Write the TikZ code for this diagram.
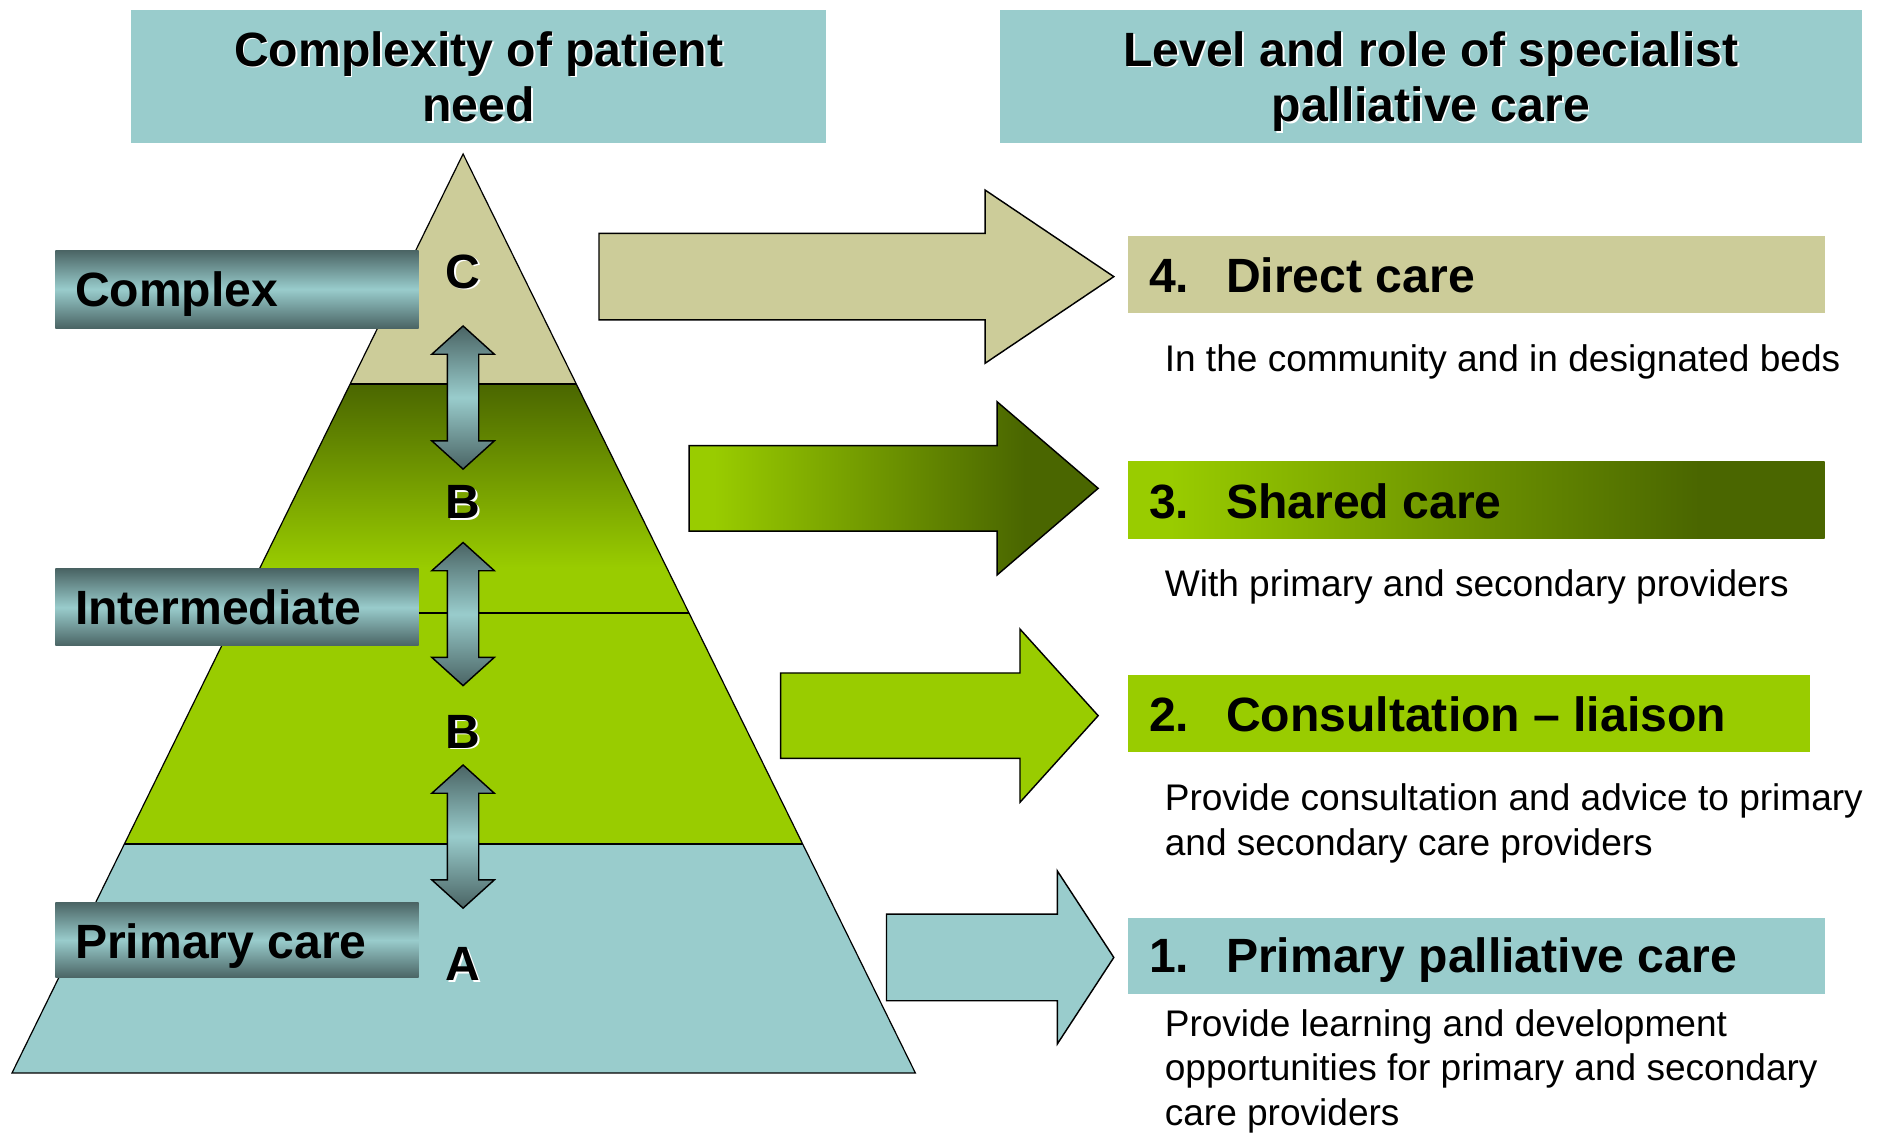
\documentclass[tikz,border=0pt]{standalone}
\usepackage{fontspec}
\setmainfont{Liberation Sans}
\usetikzlibrary{calc}
\definecolor{cTeal}{HTML}{99CCCC}
\definecolor{cTan}{HTML}{CCCC99}
\definecolor{cGreen}{HTML}{99CC00}
\definecolor{cOlive}{HTML}{4A6600}
\definecolor{cSlate}{HTML}{4A6464}
\pgfdeclarehorizontalshading{greenfade}{100bp}{color(0bp)=(cGreen); color(28bp)=(cGreen); color(66bp)=(cOlive); color(100bp)=(cOlive)}
\pgfdeclareverticalshading{olivefade}{100bp}{color(0bp)=(cGreen); color(35bp)=(cGreen); color(75bp)=(cOlive); color(100bp)=(cOlive)}
\newcommand\bigbf{\fontsize{20}{23}\selectfont\bfseries}
\newcommand\descfont{\fontsize{15.4}{18.4}\selectfont}
\tikzset{
  hdrbox/.style={fill=cTeal, minimum height=55.5pt, inner sep=0pt},
  hdrtxt/.style={font=\bigbf, align=center, inner sep=0pt, anchor=base},
  lblbox/.style={top color=cSlate, bottom color=cSlate, middle color=cTeal, minimum width=151pt, inner sep=0pt},
  lbltxt/.style={font=\bigbf, inner sep=0pt, anchor=base west},
  letter/.style={font=\bigbf, inner sep=0pt, anchor=base},
  rbox/.style={minimum height=32pt, inner sep=0pt},
  numtxt/.style={font=\bigbf, inner sep=0pt, anchor=base west},
  desctxt/.style={font=\descfont, inner sep=0pt, anchor=base west, align=left},
  barrow/.style={draw=black, line width=0.6pt, line join=miter},
  dblarrow/.pic={\draw[line width=0.6pt, top color=cSlate, bottom color=cSlate, middle color=cTeal]
     (0,-59.5) -- (26,-36) -- (13,-36) -- (13,36) -- (26,36) -- (0,59.5) -- (-26,36) -- (-13,36) -- (-13,-36) -- (-26,-36) -- cycle;}
}
\begin{document}
\begin{tikzpicture}[x=0.5pt,y=-0.5pt]
\useasboundingbox (0,0) rectangle (1568,944);
% headers (text anchored at the baseline of its last line)
\node[hdrbox, minimum width=289pt] (hL) at (398,63.5) {};
\node[hdrtxt, text=white] (hLs) at (399.5,102.5) {Complexity of patient\\need};
\node[hdrtxt] (hLt) at (398,101) {Complexity of patient\\need};
\node[hdrbox, minimum width=358.5pt] (hR) at (1189.5,63.5) {};
\node[hdrtxt, text=white] (hRs) at (1191,102.5) {Level and role of specialist\\palliative care};
\node[hdrtxt] (hRt) at (1189.5,101) {Level and role of specialist\\palliative care};
% pyramid
\coordinate (apex) at (385,128);
\coordinate (bl) at (10,892);
\coordinate (br) at (761,892);
\coordinate (l1) at ($(apex)!0.25!(bl)$);
\coordinate (r1) at ($(apex)!0.25!(br)$);
\coordinate (l2) at ($(apex)!0.5!(bl)$);
\coordinate (r2) at ($(apex)!0.5!(br)$);
\coordinate (l3) at ($(apex)!0.7513!(bl)$);
\coordinate (r3) at ($(apex)!0.7513!(br)$);
\fill[cTan] (apex) -- (r1) -- (l1) -- cycle;
\shade[shading=olivefade] (l1) -- (r1) -- (r2) -- (l2) -- cycle;
\fill[cGreen] (l2) -- (r2) -- (r3) -- (l3) -- cycle;
\fill[cTeal] (l3) -- (r3) -- (br) -- (bl) -- cycle;
\draw[line width=0.5pt] (apex) -- (br) -- (bl) -- cycle;
\draw[line width=0.8pt] (l1) -- (r1) (l2) -- (r2) (l3) -- (r3);
% level labels
\node[lblbox, minimum height=32.5pt] (bxC) at (197,240.5) {};
\node[lbltxt] (tC) at (62,255) {Complex};
\node[lblbox, minimum height=32pt] (bxI) at (197,505) {};
\node[lbltxt] (tI) at (62,519) {Intermediate};
\node[lblbox, minimum height=31.5pt] (bxP) at (197,781.5) {};
\node[lbltxt] (tP) at (62,797) {Primary care};
% letters
\node[letter, text=white] (lCs) at (386.5,241) {C};
\node[letter] (lC) at (385,239.5) {C};
\node[letter, text=white] (lB1s) at (386.5,432.5) {B};
\node[letter] (lB1) at (385,431) {B};
\node[letter, text=white] (lB2s) at (386.5,623.5) {B};
\node[letter] (lB2) at (385,622) {B};
\node[letter, text=white] (lAs) at (386.5,816.5) {A};
\node[letter] (lA) at (385,815) {A};
% double arrows
\pic at (385,330.5) {dblarrow};
\pic at (385,510.5) {dblarrow};
\pic at (385,695.5) {dblarrow};
% block arrows
\draw[barrow, fill=cTan] (498,194) -- (819,194) -- (819,158) -- (926,230) -- (819,302) -- (819,266) -- (498,266) -- cycle;
\draw[barrow, shading=greenfade] (573,370.5) -- (829,370.5) -- (829,334) -- (913,406) -- (829,478) -- (829,441.5) -- (573,441.5) -- cycle;
\draw[barrow, fill=cGreen] (649,559.5) -- (848,559.5) -- (848,523) -- (913,595) -- (848,667) -- (848,630.5) -- (649,630.5) -- cycle;
\draw[barrow, fill=cTeal] (737,760) -- (879,760) -- (879,724) -- (926,796) -- (879,868) -- (879,832) -- (737,832) -- cycle;
% right boxes
\node[rbox, fill=cTan, minimum width=289.5pt] (b4) at (1227.5,228) {};
\node[numtxt] (n4) at (955,243) {4.};
\node[numtxt] (t4) at (1019,243) {Direct care};
\node[desctxt] (d4) at (968,309) {In the community and in designated beds};
\node[rbox, shade, shading=greenfade, minimum width=289.5pt] (b3) at (1227.5,416) {};
\node[numtxt] (n3) at (955,431) {3.};
\node[numtxt] (t3) at (1019,431) {Shared care};
\node[desctxt] (d3) at (968,496) {With primary and secondary providers};
\node[rbox, fill=cGreen, minimum width=283.5pt] (b2) at (1221.5,593) {};
\node[numtxt] (n2) at (955,608) {2.};
\node[numtxt] (t2) at (1019,608) {Consultation – liaison};
\node[desctxt] (d2) at (968,711) {Provide consultation and advice to primary\\and secondary care providers};
\node[rbox, fill=cTeal, minimum width=289.5pt, minimum height=31.5pt] (b1) at (1227.5,794.5) {};
\node[numtxt] (n1) at (955,808.5) {1.};
\node[numtxt] (t1) at (1019,808.5) {Primary palliative care};
\node[desctxt] (d1) at (968,935.5) {Provide learning and development\\opportunities for primary and secondary\\care providers};
\end{tikzpicture}
\end{document}
